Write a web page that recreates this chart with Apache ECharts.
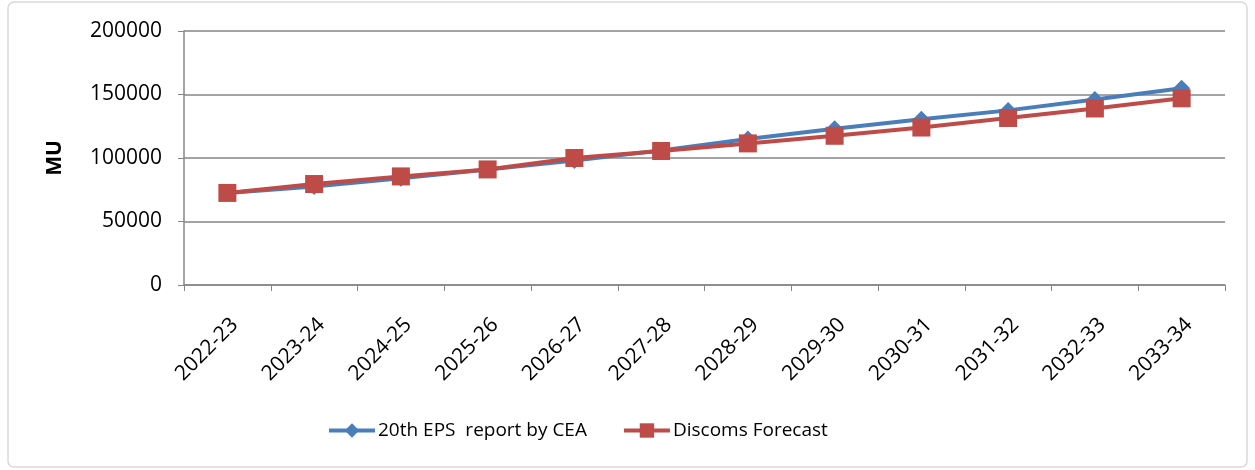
<!DOCTYPE html>
<html>
<head>
<meta charset="utf-8">
<script src="https://cdn.jsdelivr.net/npm/echarts@6/dist/echarts.min.js"></script>
<style>
  html, body { margin: 0; padding: 0; background: #fff; }
  #chart { width: 1255px; height: 470px; }
</style>
</head>
<body>
<div id="chart"></div>
<script>
// 年份类别与两条预测序列（单位 MU）
const years = ['2022-23', '2023-24', '2024-25', '2025-26', '2026-27', '2027-28',
  '2028-29', '2029-30', '2030-31', '2031-32', '2032-33', '2033-34'];
const epsCea = [72500, 77500, 84000, 91000, 98000, 106000, 115000, 123000, 130500, 137500, 146000, 155000];
const discoms = [72500, 79500, 85500, 91000, 100000, 105500, 111500, 117500, 124000, 131500, 139000, 147000];
const yTicks = { min: 0, max: 200000, interval: 50000 };

const chart = echarts.init(document.getElementById('chart'), null, { renderer: 'canvas' });
const font = 'Open Sans, Liberation Sans, sans-serif';

chart.setOption({
  animation: false,
  graphic: [{
    type: 'rect',
    shape: { x: 8, y: 2, width: 1239, height: 465, r: 6 },
    style: { fill: 'none', stroke: '#d9d9d9', lineWidth: 1.5 },
    silent: true
  }],
  grid: { left: 184, top: 31, right: 30, bottom: 185 },
  legend: {
    top: 416,
    left: 322,
    itemGap: 35,
    itemWidth: 46,
    itemHeight: 18,
    lineStyle: { width: 4 },
    textStyle: { color: '#000', fontSize: 19, fontFamily: font, padding: [0, 0, 0, -2] },
    data: ['20th EPS  report by CEA', 'Discoms Forecast']
  },
  xAxis: {
    type: 'category',
    data: years,
    boundaryGap: true,
    axisLine: { lineStyle: { color: '#868686', width: 1.5 } },
    axisTick: { show: true, length: 6, lineStyle: { color: '#868686' } },
    axisLabel: {
      rotate: 45, color: '#000', fontSize: 21, fontFamily: font,
      margin: 29, interval: 0, verticalAlign: 'top'
    }
  },
  yAxis: {
    type: 'value',
    min: yTicks.min,
    max: yTicks.max,
    interval: yTicks.interval,
    name: 'MU',
    nameLocation: 'middle',
    nameGap: 118,
    nameRotate: 90,
    nameTextStyle: { color: '#000', fontSize: 21, fontWeight: 'bold', fontFamily: font },
    axisLine: { show: true, lineStyle: { color: '#868686', width: 1.5 } },
    axisTick: { show: true, length: 6, lineStyle: { color: '#868686' } },
    axisLabel: { color: '#000', fontSize: 21, fontFamily: font, margin: 22, formatter: v => String(v) },
    splitLine: { lineStyle: { color: '#868686', width: 1.5 } }
  },
  series: [
    {
      name: '20th EPS  report by CEA',
      type: 'line',
      data: epsCea,
      symbol: 'diamond',
      symbolSize: 17,
      lineStyle: { color: '#4a7ebb', width: 4 },
      itemStyle: { color: '#4a7ebb' }
    },
    {
      name: 'Discoms Forecast',
      type: 'line',
      data: discoms,
      symbol: 'rect',
      symbolSize: 18,
      lineStyle: { color: '#be4b48', width: 4 },
      itemStyle: { color: '#be4b48' }
    }
  ]
});
</script>
</body>
</html>
